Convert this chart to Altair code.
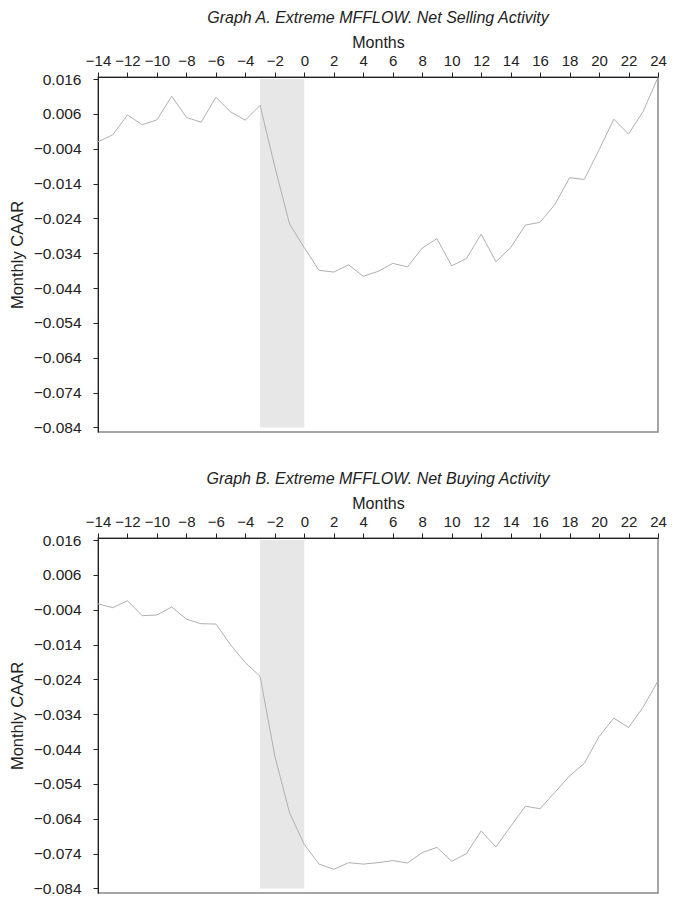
import altair as alt
import pandas as pd

months = list(range(-14, 25))

caar_a = [-0.0020, 0.0000, 0.0057, 0.0029, 0.0043, 0.0111, 0.0050, 0.0036, 0.0108,
          0.0066, 0.0042, 0.0085, -0.0092, -0.0256, -0.0324, -0.0389, -0.0394,
          -0.0373, -0.0406, -0.0392, -0.0369, -0.0379, -0.0325, -0.0298, -0.0376,
          -0.0355, -0.0285, -0.0364, -0.0324, -0.0259, -0.0251, -0.0200, -0.0123,
          -0.0128, -0.0043, 0.0045, 0.0002, 0.0068, 0.0165]

caar_b = [-0.0023, -0.0034, -0.0014, -0.0057, -0.0055, -0.0032, -0.0067, -0.0080,
          -0.0081, -0.0141, -0.0192, -0.0231, -0.0460, -0.0623, -0.0714, -0.0770,
          -0.0785, -0.0766, -0.0770, -0.0766, -0.0760, -0.0767, -0.0737, -0.0722,
          -0.0762, -0.0740, -0.0675, -0.0721, -0.0662, -0.0604, -0.0611, -0.0564,
          -0.0517, -0.0481, -0.0404, -0.0351, -0.0378, -0.0319, -0.0244]

titles = ["Graph A. Extreme MFFLOW. Net Selling Activity",
          "Graph B. Extreme MFFLOW. Net Buying Activity"]

x_ticks = list(range(-14, 25, 2))
y_ticks = [round(0.016 - 0.01 * i, 3) for i in range(11)]

shade_x = [-3, 0]
shade_y = [0.016, -0.084]

y_domain = [-0.0853, 0.0166]
x_domain = [-14, 24]

W, H = 560, 355
INK = "#222222"


def panel(values, title):
    df = pd.DataFrame({"month": months, "caar": values})
    shade = pd.DataFrame({"x0": [shade_x[0]], "x1": [shade_x[1]],
                          "y0": [shade_y[0]], "y1": [shade_y[1]]})
    xs = alt.Scale(domain=x_domain, nice=False, zero=False)
    ys = alt.Scale(domain=y_domain, nice=False, zero=False)
    rect = alt.Chart(shade).mark_rect(color="#e6e7e6").encode(
        x=alt.X("x0:Q", scale=xs),
        x2="x1:Q",
        y=alt.Y("y0:Q", scale=ys),
        y2="y1:Q",
    )
    line = alt.Chart(df).mark_line(color="#b0b0b0", strokeWidth=1).encode(
        x=alt.X("month:Q", scale=xs,
                axis=alt.Axis(orient="top", title="Months", values=x_ticks,
                              tickCount=100, format="d", labelFontSize=15,
                              titleFontSize=16, titleFontWeight="normal",
                              tickSize=5, labelPadding=3.5, titlePadding=3,
                              grid=False, domainColor=INK, tickColor=INK,
                              labelColor=INK, titleColor=INK,
                              labelFlush=False, labelOverlap=False)),
        y=alt.Y("caar:Q", scale=ys,
                axis=alt.Axis(title="Monthly CAAR", values=y_ticks,
                              tickCount=100, format=".3f",
                              labelFontSize=15.5, titleFontSize=16.5,
                              titleFontWeight="normal", tickSize=5,
                              labelPadding=12, titlePadding=8, grid=False,
                              domainColor=INK, tickColor=INK,
                              labelColor=INK, titleColor=INK,
                              labelOverlap=False, labelFlush=False)),
    )
    return alt.layer(rect, line).properties(
        width=W, height=H,
        title=alt.TitleParams(title, fontStyle="italic", fontWeight="normal",
                              fontSize=16, color=INK, offset=9,
                              font="Liberation Sans"),
    )


chart = alt.vconcat(panel(caar_a, titles[0]), panel(caar_b, titles[1]),
                    spacing=32).properties(
    padding={"left": 0, "top": 0, "right": 0, "bottom": 0}
).configure(
    font="Liberation Sans",
).configure_axis(
    labelFont="Liberation Sans", titleFont="Liberation Sans",
).configure_view(
    stroke="#888888", strokeWidth=1.5,
)

chart.save("out.html", embed_options={"renderer": "svg", "actions": False})
